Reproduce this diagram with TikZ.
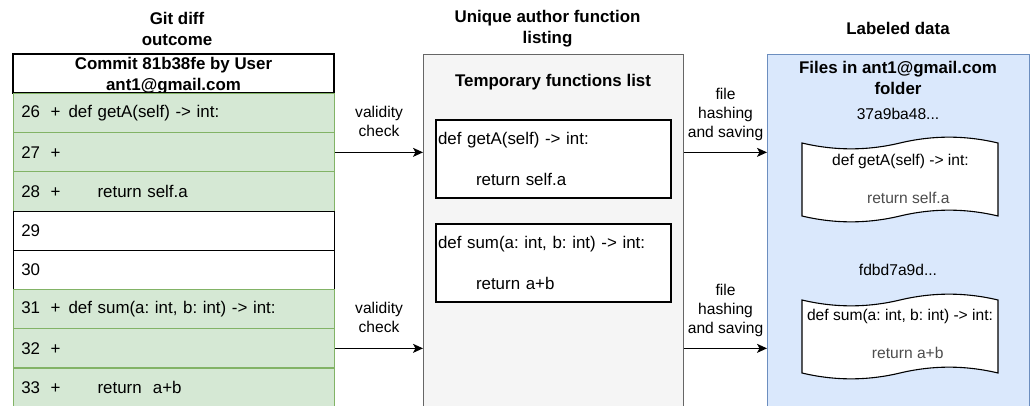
\documentclass[tikz,border=0pt]{standalone}
\usepackage{fontspec}
\setmainfont{Liberation Sans}
\usepackage{tikz}
\usetikzlibrary{arrows.meta}
\frenchspacing

\definecolor{diffgreen}{HTML}{D5E8D4}
\definecolor{diffgreenline}{HTML}{82B366}
\definecolor{listgray}{HTML}{F5F5F5}
\definecolor{listgrayline}{HTML}{666666}
\definecolor{labelblue}{HTML}{DAE8FC}
\definecolor{labelblueline}{HTML}{6C8EBF}
\definecolor{codegray}{HTML}{4D4D4D}

\newcommand{\diffline}[2]{\makebox[29.3pt][l]{#1}\makebox[18pt][l]{+}#2}

\tikzset{
	coltitle/.style = {font=\fontsize{16.9}{21}\selectfont\bfseries, align=center},
	smalltext/.style = {font=\fontsize{15.6}{18.8}\selectfont},
	codetext/.style = {font=\fontsize{16.9}{20.4}\selectfont},
	headbox/.style = {draw=black, fill=white, line width=1.1pt, minimum width=321pt, minimum height=39pt, inner sep=0pt, font=\fontsize{16.9}{20}\selectfont\bfseries, align=center},
	diffrow/.style = {line width=1.1pt, minimum width=321pt, minimum height=39.2pt, inner xsep=7.7pt, inner ysep=0pt, text width=305.6pt, align=left, anchor=north west, codetext},
	addedrow/.style = {diffrow, draw=diffgreenline, fill=diffgreen},
	keptrow/.style = {diffrow, draw=black, fill=white},
	container/.style = {line width=1.1pt, minimum height=370pt, inner sep=0pt, anchor=north west},
	codebox/.style = {draw=black, fill=white, line width=1.1pt, minimum width=235pt, minimum height=78pt, inner xsep=2pt, inner ysep=0pt, text width=231pt, align=left, codetext},
	tapeline/.style = {draw=black, fill=white, line width=1.1pt},
	flow/.style = {-{Stealth[length=10pt, width=9pt, inset=2.5pt]}, line width=1.1pt},
	arrowlabel/.style = {smalltext, align=center, inner sep=0pt},
}

% tape shape: x, y of the top left corner
\newcommand{\tapepath}[2]{
	\draw [tapeline] (#1,#2+\tapeDY/2)
		.. controls (#1+\tapeW/6,#2+1.1*\tapeDY) and (#1+\tapeW/3,#2+1.1*\tapeDY) .. (#1+\tapeW/2,#2+\tapeDY/2)
		.. controls (#1+2*\tapeW/3,#2-0.1*\tapeDY) and (#1+5*\tapeW/6,#2-0.1*\tapeDY) .. (#1+\tapeW,#2+\tapeDY/2)
		-- (#1+\tapeW,#2+\tapeH-\tapeDY/2)
		.. controls (#1+5*\tapeW/6,#2+\tapeH-1.1*\tapeDY) and (#1+2*\tapeW/3,#2+\tapeH-1.1*\tapeDY) .. (#1+\tapeW/2,#2+\tapeH-\tapeDY/2)
		.. controls (#1+\tapeW/3,#2+\tapeH+0.1*\tapeDY) and (#1+\tapeW/6,#2+\tapeH+0.1*\tapeDY) .. (#1,#2+\tapeH-\tapeDY/2)
		-- cycle;
}

\begin{document}
\begin{tikzpicture}[x=1pt, y=-1pt]
	\def\tapeW{196}
	\def\tapeH{86}
	\def\tapeDY{13}

	\clip (0,0) rectangle (1035,406);

	% git diff
	\begin{scope}
		\node [coltitle] (gittitle) at (177,29) {Git diff\\outcome};
		\node [headbox] (commit) at (173.5,73.5) {};
		\node [coltitle] (commitinfo) at (173.5,76) {Commit 81b38fe by User\\ant1@gmail.com};

		\node [addedrow] (r26) at (13,93) {\diffline{26}{def getA(self) -> int:}};
		\node [addedrow] (r27) at (13,132.2) {\diffline{27}{}};
		\node [addedrow] (r28) at (13,171.4) {\diffline{28}{\hspace*{29pt}return self.a}};
		\node [keptrow] (r29) at (13,210.6) {29};
		\node [keptrow] (r30) at (13,249.8) {30};
		\node [addedrow] (r31) at (13,289) {\diffline{31}{def sum(a: int, b: int) -> int:}};
		\node [addedrow] (r32) at (13,328.2) {\diffline{32}{}};
		\node [addedrow] (r33) at (13,367.4) {\diffline{33}{\hspace*{29pt}return\ \ a+b}};
	\end{scope}

	% function listing
	\begin{scope}
		\node [coltitle] (listtitle) at (547.5,29) {Unique author function\\listing};
		\node [container, draw=listgrayline, fill=listgray, minimum width=260pt] (listing) at (423,54) {};
		\node [coltitle] (templist) at (553,82) {Temporary functions list};
		\node [codebox] (getA) at (553.5,159) {def getA(self) -> int:\\[20.4pt]\hspace*{38pt}return self.a};
		\node [codebox] (sum) at (553.5,263) {def sum(a: int, b: int) -> int:\\[20.4pt]\hspace*{38pt}return a+b};
	\end{scope}

	% labeled data
	\begin{scope}
		\node [coltitle] (labeltitle) at (898,28.5) {Labeled data};
		\node [container, draw=labelblueline, fill=labelblue, minimum width=262pt] (labeled) at (767,54) {};
		\node [coltitle] (folder) at (898,78) {Files in ant1@gmail.com\\folder};

		\node [smalltext] (hashA) at (898,114) {37a9ba48...};
		\tapepath{802}{136.5}
		\node [smalltext, align=center] (getAfile) at (900.5,179) {def getA(self) -> int:\\[18.8pt]\textcolor{codegray}{\hspace*{15.5pt}return self.a}};

		\node [smalltext] (hashB) at (898,270) {fdbd7a9d...};
		\tapepath{802}{293.5}
		\node [smalltext, align=center] (sumfile) at (900,334) {def sum(a: int, b: int) -> int:\\[18.8pt]\textcolor{codegray}{\hspace*{15.5pt}return a+b}};
	\end{scope}

	% arrows
	\begin{scope}
		\draw [flow] (r27.east) -- node [arrowlabel, above=15pt] (checkA) {validity\\check} (r27.east -| listing.west);
		\draw [flow] (r32.east) -- node [arrowlabel, above=15pt] (checkB) {validity\\check} (r32.east -| listing.west);
		\draw [flow] (r27.east -| listing.east) -- node [arrowlabel, above=11pt] (saveA) {file\\hashing\\and saving} (r27.east -| labeled.west);
		\draw [flow] (r32.east -| listing.east) -- node [arrowlabel, above=11pt] (saveB) {file\\hashing\\and saving} (r32.east -| labeled.west);
	\end{scope}
\end{tikzpicture}
\end{document}
